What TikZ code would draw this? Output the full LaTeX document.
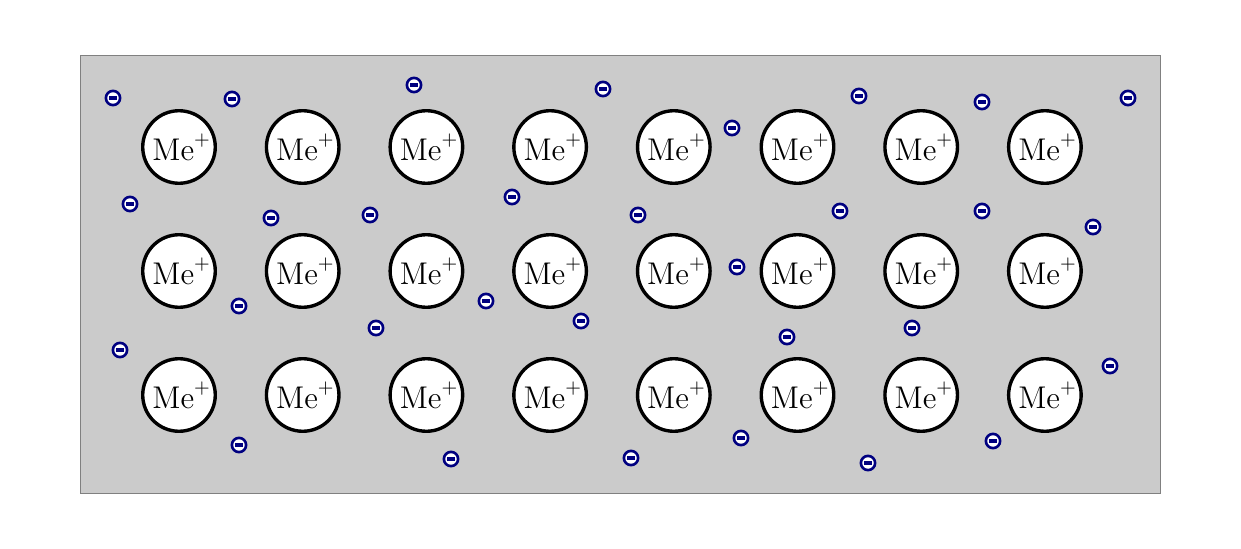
\documentclass[tikz,border=0pt]{standalone}
\usepackage{tikz}
\usetikzlibrary{positioning}
\usepackage{xcolor}
\usepackage{amsmath}
\definecolor{elecNavy}{HTML}{000080}
\definecolor{gasGray}{HTML}{CBCBCB}

\begin{document}
\begin{tikzpicture}[x=0.016129cm,y=-0.016129cm,
  ion/.style={circle,draw=black,line width=1.55pt,fill=white,minimum size=1.17cm,inner sep=0pt,font=\fontsize{13.5}{15}\selectfont},
  electron/.style={circle,draw=elecNavy,line width=1.2pt,fill=white,minimum size=0.23cm,inner sep=0pt,
    path picture={\fill[elecNavy] ([xshift=-1.85pt,yshift=-0.75pt]path picture bounding box.center) rectangle ([xshift=1.85pt,yshift=0.75pt]path picture bounding box.center);}}]
\useasboundingbox (0,0) rectangle (1241,549);
\draw[gray,fill=gasGray] (80,55) rectangle (1160,493);
% metal ions
\foreach \r in {0,1,2}{\foreach \c in {0,...,7}{\node[ion] (ion-\r-\c) at ({179+123.7*\c},{147+124*\r}) {\hspace{2.5pt}$\mathrm{Me}^{+}$};}}
% free electrons
\foreach \x/\y [count=\k] in {113/98,232/99,414/85,603/89,732/128,859/96,982/102,1128/98,
  130/204,271/218,370/215,512/197,638/215,840/211,982/211,1093/227,
  239/306,376/328,486/301,581/321,737/267,787/337,912/328,120/350,1110/366,
  239/445,451/459,631/458,741/438,868/463,993/441}{\node[electron] (el-\k) at (\x,\y) {};}
\end{tikzpicture}
\end{document}
